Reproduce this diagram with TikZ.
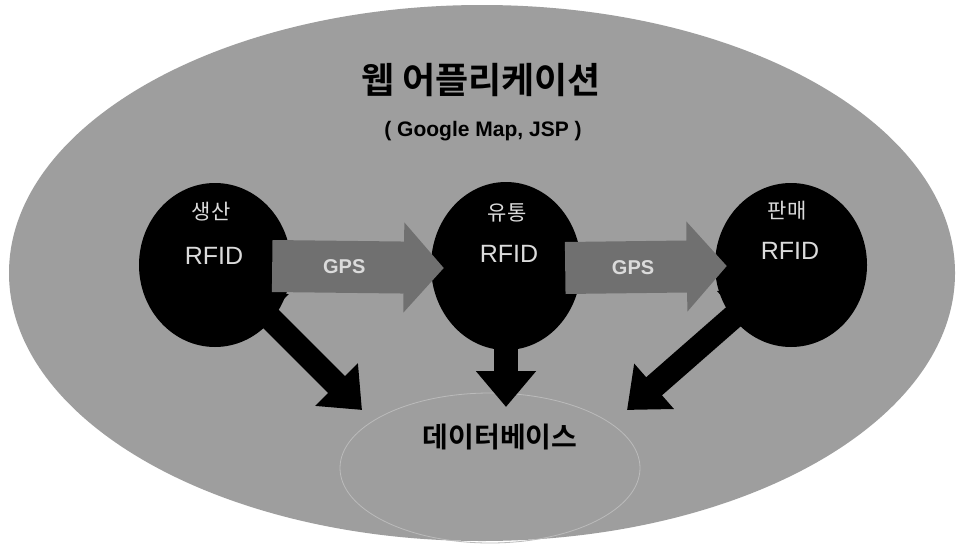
\documentclass[tikz,border=0pt]{standalone}
\usepackage{fontspec}
\setmainfont{Liberation Sans}
\newfontfamily\kr{Noto Sans CJK KR}[BoldFont={Noto Sans CJK KR Bold}]
\usetikzlibrary{arrows.meta,shapes.geometric}
\definecolor{bgc}{gray}{0.62}
\definecolor{garc}{gray}{0.44}
\definecolor{ctext}{gray}{0.86}
\tikzset{
  disc/.style={ellipse, fill=black, inner sep=0pt, minimum width=152pt, minimum height=164pt},
  krlbl/.style={text=ctext, font=\kr\fontsize{21}{23}\selectfont},
  rfidlbl/.style={text=ctext, font=\fontsize{25}{27}\selectfont},
  garrow/.style={draw=garc, line width=52pt, -{Triangle[length=40pt,width=88pt]}},
  glbl/.style={text=ctext, font=\bfseries\fontsize{20}{22}\selectfont},
  barrow/.style={draw=black, line width=24pt, {Triangle[length=36pt,width=58pt]}-{Triangle[length=36pt,width=58pt]}}
}
\begin{document}
\begin{tikzpicture}[x=1pt,y=-1pt]
\useasboundingbox (0,0) rectangle (965,546);
\fill[white] (0,0) rectangle (965,546);
% application area
\node[ellipse, fill=bgc, inner sep=0pt, minimum width=946pt, minimum height=536pt] (app) at (482,273) {};
\node[font=\kr\bfseries\fontsize{36}{40}\selectfont] (title) at (481,80) {웹 어플리케이션};
\node[font=\bfseries\fontsize{21}{24}\selectfont] (sub) at (483,131) {( Google Map, JSP )};
% database
\node[ellipse, draw=white!30!bgc, line width=0.8pt, inner sep=0pt, minimum width=300pt, minimum height=150pt] (db) at (490,468) {};
\node[font=\kr\bfseries\fontsize{28}{30}\selectfont] (dbt) at (500,437) {데이터베이스};
% black discs
\node[disc] (L) at (215,265) {};
\node[disc, minimum height=168pt, minimum width=150pt] (M) at (506,266) {};
\node[disc] (R) at (791,265) {};
% database arrows
\coordinate (lt) at (242,290);
\coordinate (lb) at (362,410);
\coordinate (mt) at (506,296);
\coordinate (mb) at (506,407);
\coordinate (rt) at (764,290);
\coordinate (rb) at (627,410);
\draw[barrow] (lt) -- (lb);
\draw[barrow] (mt) -- (mb);
\draw[barrow] (rt) -- (rb);
% grey transfer arrows
\draw[garrow] ([xshift=-19pt,yshift=-1pt]L.east) -- ([xshift=13pt,yshift=-2pt]M.west)
  node[glbl, pos=0.42] (g1) {GPS};
\draw[garrow] ([xshift=-16pt,yshift=-2pt]M.east) -- ([xshift=12pt,yshift=-1pt]R.west)
  node[glbl, pos=0.42] (g2) {GPS};
% disc labels
\node[krlbl] (Lk) at (211,212) {생산};
\node[rfidlbl] (Lr) at (214,256) {RFID};
\node[krlbl] (Mk) at (507,213) {유통};
\node[rfidlbl] (Mr) at (509,254) {RFID};
\node[krlbl] (Rk) at (787,211) {판매};
\node[rfidlbl] (Rr) at (790,251) {RFID};
\end{tikzpicture}
\end{document}
